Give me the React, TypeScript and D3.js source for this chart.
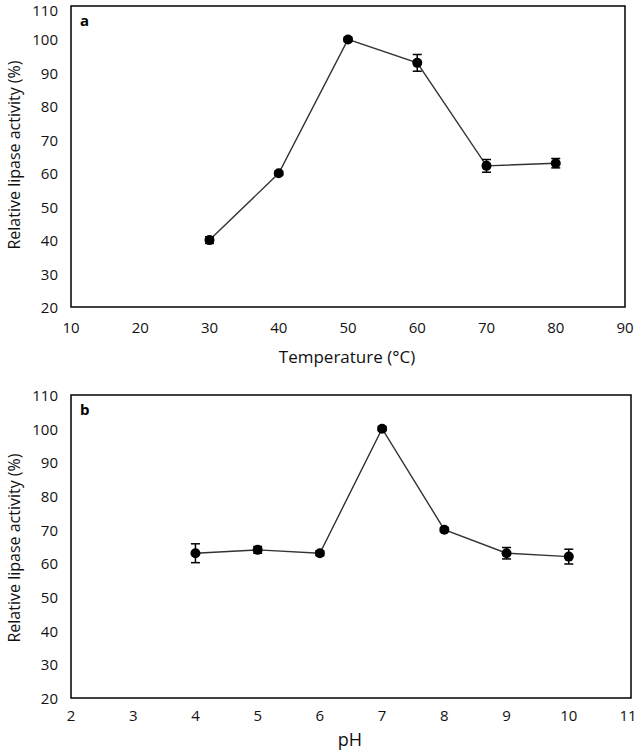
import React from "react";
import * as d3 from "d3";

const tempX = [30, 40, 50, 60, 70, 80];
const tempY = [40, 60, 100, 93, 62.2, 63];
const tempErr = [1.0, 0.6, 0.6, 2.5, 1.9, 1.4];
const tempTicks = [10, 20, 30, 40, 50, 60, 70, 80, 90];

const phX = [4, 5, 6, 7, 8, 9, 10];
const phY = [63, 64, 63, 100, 70, 63, 62];
const phErr = [2.8, 1.0, 0.7, 0.6, 0.6, 1.7, 2.2];
const phTicks = [2, 3, 4, 5, 6, 7, 8, 9, 10, 11];

const yTicks = [20, 30, 40, 50, 60, 70, 80, 90, 100, 110];

const FONT = "'Open Sans', 'Noto Sans', sans-serif";

type PanelProps = {
  xs: number[];
  ys: number[];
  errs: number[];
  xTicks: number[];
  xDomain: [number, number];
  left: number;
  right: number;
  top: number;
  bottom: number;
  label: string;
  xTitle: string;
  xTitleX: number;
  xTitleY: number;
  xTitleSize: number;
  tickLabelY: number;
  yTitleY: number;
};

function Panel(p: PanelProps) {
  const x = d3.scaleLinear().domain(p.xDomain).range([p.left, p.right]);
  const y = d3.scaleLinear().domain([20, 110]).range([p.bottom, p.top]);
  const pts = p.xs.map((v, i) => [v, p.ys[i]] as [number, number]);
  const line = d3
    .line<[number, number]>()
    .x((d) => x(d[0]))
    .y((d) => y(d[1]))(pts);
  return (
    <g>
      <rect
        x={p.left}
        y={p.top}
        width={p.right - p.left}
        height={p.bottom - p.top}
        fill="none"
        stroke="#000"
        strokeWidth={1.5}
      />
      {yTicks.map((t) => (
        <text
          key={"y" + t}
          x={p.left - 13}
          y={Math.max(y(t), 10)}
          textAnchor="end"
          dominantBaseline="central"
          fontSize={15}
          fontFamily={FONT}
          fill="#111"
        >
          {t}
        </text>
      ))}
      {p.xTicks.map((t) => (
        <text
          key={"x" + t}
          x={Math.min(x(t), 628)}
          y={p.tickLabelY}
          textAnchor="middle"
          dominantBaseline="central"
          fontSize={15}
          fontFamily={FONT}
          fill="#111"
        >
          {t}
        </text>
      ))}
      <text
        x={p.xTitleX}
        y={p.xTitleY}
        textAnchor="middle"
        dominantBaseline="central"
        fontSize={p.xTitleSize}
        fontFamily={FONT}
        fill="#111"
      >
        {p.xTitle}
      </text>
      <text
        transform={`translate(14,${p.yTitleY}) rotate(-90)`}
        textAnchor="middle"
        dominantBaseline="central"
        fontSize={16}
        fontFamily={FONT}
        fill="#111"
      >
        Relative lipase activity (%)
      </text>
      <text
        x={p.left + 9}
        y={p.top + 14}
        dominantBaseline="central"
        fontSize={15}
        fontWeight="bold"
        fontFamily={FONT}
        fill="#000"
      >
        {p.label}
      </text>
      <path d={line || ""} fill="none" stroke="#333" strokeWidth={1.4} />
      {pts.map((d, i) => {
        const cx = x(d[0]);
        const y1 = y(d[1] + p.errs[i]);
        const y2 = y(d[1] - p.errs[i]);
        return (
          <g key={"e" + i} stroke="#000" strokeWidth={1.5}>
            <line x1={cx} x2={cx} y1={y1} y2={y2} />
            <line x1={cx - 4.5} x2={cx + 4.5} y1={y1} y2={y1} />
            <line x1={cx - 4.5} x2={cx + 4.5} y1={y2} y2={y2} />
          </g>
        );
      })}
      {pts.map((d, i) => (
        <circle key={"c" + i} cx={x(d[0])} cy={y(d[1])} r={5} fill="#000" />
      ))}
    </g>
  );
}

export default function App() {
  return (
    <svg
      width={638}
      height={753}
      style={{ position: "absolute", left: 0, top: 0, background: "#fff" }}
    >
      <rect width={638} height={753} fill="#fff" />
      <Panel
        xs={tempX}
        ys={tempY}
        errs={tempErr}
        xTicks={tempTicks}
        xDomain={[10, 90]}
        left={71}
        right={625}
        top={6}
        bottom={307}
        label="a"
        xTitle="Temperature (°C)"
        xTitleX={347}
        xTitleY={356}
        xTitleSize={17}
        tickLabelY={327}
        yTitleY={155}
      />
      <Panel
        xs={phX}
        ys={phY}
        errs={phErr}
        xTicks={phTicks}
        xDomain={[2, 11]}
        left={71}
        right={631}
        top={395}
        bottom={698}
        label="b"
        xTitle="pH"
        xTitleX={350}
        xTitleY={739}
        xTitleSize={18}
        tickLabelY={715}
        yTitleY={548}
      />
    </svg>
  );
}
